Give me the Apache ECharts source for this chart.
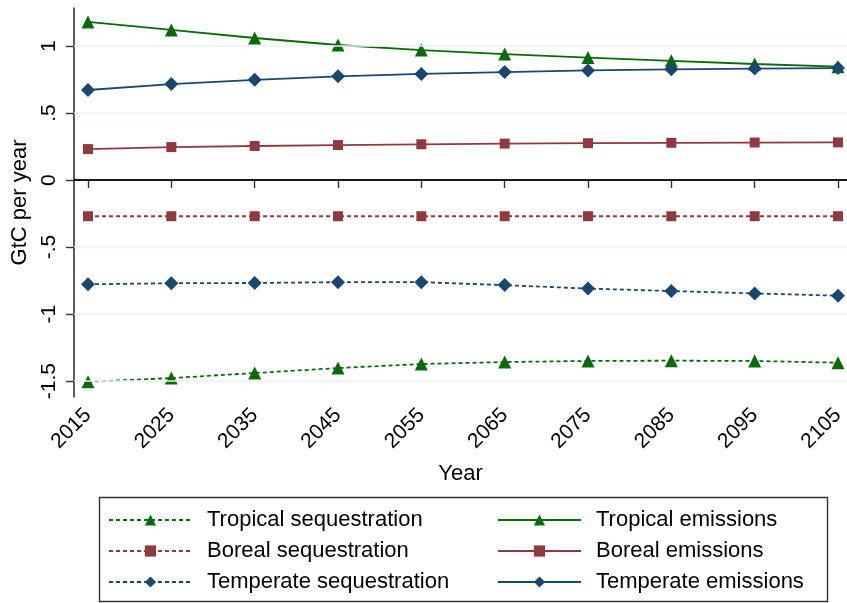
<!DOCTYPE html>
<html>
<head>
<meta charset="utf-8">
<script src="https://cdn.jsdelivr.net/npm/echarts@6/dist/echarts.min.js"></script>
<style>
  html, body { margin: 0; padding: 0; background: #fff; }
  #chart { width: 847px; height: 603px; }
</style>
</head>
<body>
<div id="chart"></div>
<script>
// Forest carbon flows, GtC per year
const years = [2015, 2025, 2035, 2045, 2055, 2065, 2075, 2085, 2095, 2105];
const yTicks = [-1.5, -1, -0.5, 0, 0.5, 1];

const tropicalSequestration = [-1.505, -1.478, -1.44, -1.403, -1.373, -1.358, -1.35, -1.348, -1.35, -1.363];
const borealSequestration   = [-0.27, -0.27, -0.27, -0.27, -0.27, -0.27, -0.27, -0.27, -0.27, -0.27];
const temperateSequestration = [-0.778, -0.77, -0.768, -0.762, -0.762, -0.784, -0.81, -0.828, -0.846, -0.863];
const tropicalEmissions  = [1.18, 1.12, 1.06, 1.008, 0.97, 0.94, 0.914, 0.89, 0.866, 0.846];
const borealEmissions    = [0.231, 0.246, 0.254, 0.261, 0.267, 0.272, 0.275, 0.278, 0.28, 0.281];
const temperateEmissions = [0.672, 0.716, 0.748, 0.774, 0.792, 0.806, 0.818, 0.826, 0.832, 0.836];

const GREEN = '#0a6a0a';
const MAROON = '#903a40';
const NAVY = '#1a476f';
const FONT = '"Liberation Sans", Arial, Helvetica, sans-serif';

function pairs(vals) { return years.map((y, i) => [y, vals[i]]); }

function mk(name, vals, color, symbol, size, dashed) {
  return {
    name: name,
    type: 'line',
    data: pairs(vals),
    symbol: symbol,
    symbolSize: size,
    showAllSymbol: true,
    itemStyle: { color: color },
    lineStyle: { color: color, width: 1.8, type: dashed ? [4, 3] : 'solid' },
    emphasis: { disabled: true },
    animation: false,
    z: 3
  };
}

const series = [
  mk('Tropical sequestration', tropicalSequestration, GREEN, 'triangle', 13, true),
  mk('Boreal sequestration', borealSequestration, MAROON, 'rect', 10, true),
  mk('Temperate sequestration', temperateSequestration, NAVY, 'diamond', 14, true),
  mk('Tropical emissions', tropicalEmissions, GREEN, 'triangle', 13, false),
  mk('Boreal emissions', borealEmissions, MAROON, 'rect', 10, false),
  mk('Temperate emissions', temperateEmissions, NAVY, 'diamond', 14, false)
];

// horizontal grid lines and the zero reference line
series.push({
  name: 'grid',
  type: 'line',
  data: [],
  silent: true,
  animation: false,
  z: 1,
  markLine: {
    silent: true,
    symbol: 'none',
    label: { show: false },
    animation: false,
    data: yTicks.map(v => ({
      yAxis: v,
      lineStyle: v === 0
        ? { color: '#000', width: 1.6, type: 'solid' }
        : { color: '#eaf2f3', width: 1.6, type: 'solid' }
    }))
  }
});

const chart = echarts.init(document.getElementById('chart'), null, { renderer: 'canvas' });

const legendCommon = {
  orient: 'vertical',
  padding: 0,
  itemWidth: 83,
  itemHeight: 14,
  itemGap: 9,
  textStyle: { fontFamily: FONT, fontSize: 22, color: '#000', lineHeight: 22, padding: [0, 0, 0, 10] },
  selectedMode: false
};

chart.setOption({
  backgroundColor: '#fff',
  animation: false,
  grid: { left: 74, right: 0, top: 8, bottom: 206, containLabel: false, outerBoundsMode: 'none' },
  xAxis: {
    type: 'value',
    min: 2013.32,
    max: 2106.08,
    name: 'Year',
    nameLocation: 'middle',
    nameGap: 66,
    nameTextStyle: { fontFamily: FONT, fontSize: 22, color: '#000' },
    axisLine: { show: true, lineStyle: { color: '#333', width: 1.6 } },
    axisTick: { show: true, length: 8, customValues: years, lineStyle: { color: '#333', width: 1.4 } },
    axisLabel: {
      customValues: years, rotate: 45, fontFamily: FONT, fontSize: 21, color: '#000', margin: 15,
      formatter: v => String(v)
    },
    splitLine: { show: false }
  },
  yAxis: {
    type: 'value',
    min: -1.619,
    max: 1.284,
    name: 'GtC per year',
    nameLocation: 'middle',
    nameRotate: 90,
    nameGap: 22,
    nameTextStyle: { fontFamily: FONT, fontSize: 22, color: '#000' },
    axisLine: { show: true, onZero: false, lineStyle: { color: '#333', width: 1.6 } },
    axisTick: { show: true, length: 8, customValues: yTicks, lineStyle: { color: '#333', width: 1.4 } },
    axisLabel: {
      customValues: yTicks, rotate: 90, fontFamily: FONT, fontSize: 21, color: '#000', margin: 14,
      formatter: v => v === 0 ? '0' : String(v).replace(/^(-?)0\./, '$1.')
    },
    splitLine: { show: false }
  },
  legend: [
    Object.assign({}, legendCommon, {
      left: 108, top: 509,
      data: ['Tropical sequestration', 'Boreal sequestration', 'Temperate sequestration']
    }),
    Object.assign({}, legendCommon, {
      left: 497, top: 509,
      data: ['Tropical emissions', 'Boreal emissions', 'Temperate emissions']
    })
  ],
  graphic: [{
    type: 'rect',
    shape: { x: 99.5, y: 497.5, width: 728, height: 104 },
    style: { fill: 'none', stroke: '#333', lineWidth: 1.4 },
    silent: true
  }],
  series: series
});
</script>
</body>
</html>
